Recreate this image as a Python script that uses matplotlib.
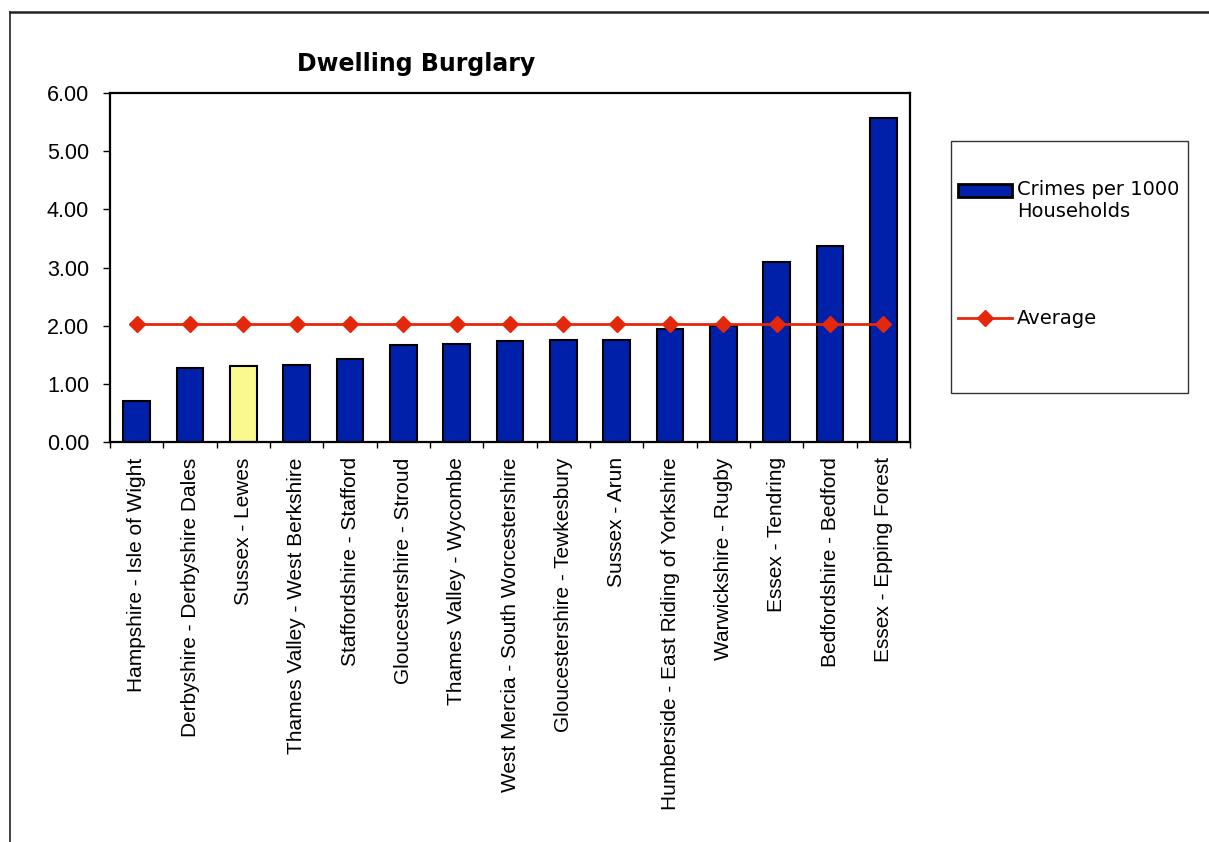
"""Dwelling burglary rates by area, bar chart with average line"""
import matplotlib
matplotlib.use("Agg")
import matplotlib.pyplot as plt
from matplotlib.patches import Patch, Rectangle
from matplotlib.lines import Line2D
from matplotlib.legend_handler import HandlerPatch
from matplotlib.ticker import FixedLocator, FormatStrFormatter

areas = [
    "Hampshire - Isle of Wight",
    "Derbyshire - Derbyshire Dales",
    "Sussex - Lewes",
    "Thames Valley - West Berkshire",
    "Staffordshire - Stafford",
    "Gloucestershire - Stroud",
    "Thames Valley - Wycombe",
    "West Mercia - South Worcestershire",
    "Gloucestershire - Tewkesbury",
    "Sussex - Arun",
    "Humberside - East Riding of Yorkshire",
    "Warwickshire - Rugby",
    "Essex - Tendring",
    "Bedfordshire - Bedford",
    "Essex - Epping Forest",
]
crimes_per_1000 = [0.70, 1.28, 1.31, 1.32, 1.43, 1.66, 1.69, 1.73, 1.75, 1.75,
                   1.94, 1.99, 3.10, 3.37, 5.57]
average = [2.03] * len(areas)
highlight = "Sussex - Lewes"

BLUE = "#0020AA"
YELLOW = "#FAF98F"
RED = "#E3280B"

W, H = 1209, 842
fig = plt.figure(figsize=(W / 100, H / 100), dpi=100)

# outer chart-area border (left and top only visible)
fig.add_artist(Line2D([10 / W, 10 / W], [0, 1 - 12 / H], transform=fig.transFigure,
                      color="#222222", lw=1.2))
fig.add_artist(Line2D([10 / W, 1], [1 - 12 / H, 1 - 12 / H], transform=fig.transFigure,
                      color="#222222", lw=1.8))

ax = fig.add_axes([110 / W, 1 - 442 / H, 800 / W, 349 / H])

x = list(range(len(areas)))
colors = [YELLOW if a == highlight else BLUE for a in areas]
ax.bar(x, crimes_per_1000, width=0.5, color=colors, edgecolor="black", linewidth=1.5, zorder=2)
ax.plot(x, average, color=RED, lw=2, marker="D", markersize=8, zorder=3)

ax.set_xlim(-0.5, len(areas) - 0.5)
ax.set_ylim(0, 6)
ax.yaxis.set_major_locator(FixedLocator([0, 1, 2, 3, 4, 5, 6]))
ax.yaxis.set_major_formatter(FormatStrFormatter("%.2f"))
ax.tick_params(axis="y", direction="out", length=5, width=1, pad=10,
               labelsize=15.5, labelfontfamily="Liberation Sans")

ax.set_xticks(x)
ax.set_xticklabels(areas, rotation=90, fontsize=15, family="Liberation Sans")
ax.xaxis.set_minor_locator(FixedLocator([i - 0.5 for i in range(len(areas) + 1)]))
ax.tick_params(axis="x", which="major", length=0, pad=11)
ax.tick_params(axis="x", which="minor", direction="out", length=4, width=1)

for s in ax.spines.values():
    s.set_linewidth(1.6)
    s.set_color("black")

fig.text(416 / W, 1 - 71 / H, "Dwelling Burglary", ha="center", va="baseline",
         fontsize=17, fontweight="bold", family="DejaVu Sans")


def bar_key(legend, orig_handle, xdescent, ydescent, width, height, fontsize):
    # put the key next to the first line of the two-line label
    return Rectangle((-xdescent, -ydescent + 8), width, height)


# legend box
fig.add_artist(Rectangle((951 / W, 1 - 393 / H), (1188 - 951) / W, (393 - 141) / H,
                         transform=fig.transFigure, facecolor="white",
                         edgecolor="#333333", lw=1))
bar_handle = Patch(facecolor=BLUE, edgecolor="black", linewidth=2)
handles = [bar_handle,
           Line2D([], [], color=RED, lw=2, marker="D", markersize=8)]
labels = ["Crimes per 1000\nHouseholds", "Average"]
leg = fig.legend(handles, labels, loc="upper left", bbox_to_anchor=(958 / W, 1 - 180 / H),
                 bbox_transform=fig.transFigure, frameon=False, numpoints=1,
                 prop={"family": "DejaVu Sans", "size": 14}, handlelength=2.8,
                 handleheight=0.65, handletextpad=0.25, labelspacing=4.55, borderpad=0,
                 borderaxespad=0, handler_map={bar_handle: HandlerPatch(patch_func=bar_key)})

plt.savefig("out.png", dpi=100)
